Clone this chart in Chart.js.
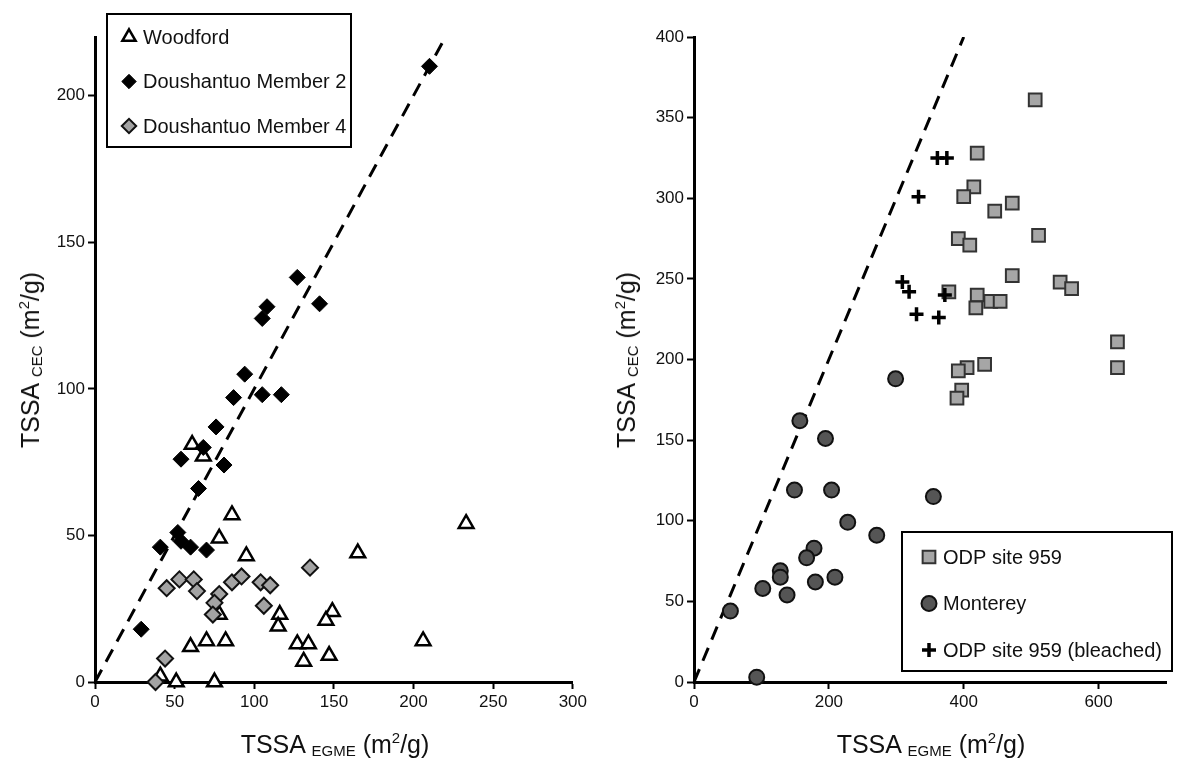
<!DOCTYPE html>
<html>
<head>
<meta charset="utf-8">
<script src="https://cdn.jsdelivr.net/npm/chart.js"></script>
<style>
body { margin: 0; background: #fff; }
#page { position: relative; width: 1177px; height: 758px; overflow: hidden; font-family: "Liberation Sans", Arial, sans-serif; color: #111; }
#page canvas { position: absolute; top: 0; }
.title { position: absolute; white-space: nowrap; font-size: 25px; line-height: 1; }
.title sub { font-size: 15px; vertical-align: -3px; }
.title sup { font-size: 15px; vertical-align: 10px; }
.ytitle { transform: translate(-50%, -50%) rotate(-90deg); }
.xtitle { transform: translate(-50%, -50%); }
</style>
</head>
<body>
<div id="page">
  <canvas id="left" width="590" height="758" style="left:0"></canvas>
  <canvas id="right" width="587" height="758" style="left:590px"></canvas>
  <div class="title ytitle" style="left:30px; top:360px">TSSA <sub>CEC</sub> (m<sup>2</sup>/g)</div>
  <div class="title xtitle" style="left:335px; top:744px">TSSA <sub>EGME</sub> (m<sup>2</sup>/g)</div>
  <div class="title ytitle" style="left:626px; top:360px">TSSA <sub>CEC</sub> (m<sup>2</sup>/g)</div>
  <div class="title xtitle" style="left:931px; top:744px">TSSA <sub>EGME</sub> (m<sup>2</sup>/g)</div>
</div>
<script>
// left panel: TSSA from CEC vs EGME, m2/g
const woodfordX = [61, 68, 86, 78, 95, 165, 233, 78, 116, 115, 149, 145, 60, 70, 82, 127, 134, 131, 147, 206, 51, 75, 41];
const woodfordY = [81, 77, 57, 49, 43, 44, 54, 23, 23, 19, 24, 21, 12, 14, 14, 13, 13, 7, 9, 14, 0, 0, 2];
const member2X = [210, 127, 141, 108, 105, 94, 87, 105, 117, 76, 68, 54, 81, 65, 52, 54, 60, 70, 41, 29];
const member2Y = [210, 138, 129, 128, 124, 105, 97, 98, 98, 87, 80, 76, 74, 66, 51, 48, 46, 45, 46, 18];
const member4X = [45, 53, 62, 64, 78, 75, 74, 86, 92, 104, 110, 106, 135, 44, 38];
const member4Y = [32, 35, 35, 31, 30, 27, 23, 34, 36, 34, 33, 26, 39, 8, 0];

// right panel
const odpX = [506, 420, 415, 400, 472, 446, 392, 409, 511, 472, 543, 560, 378, 420, 440, 454, 418, 628, 431, 405, 392, 397, 390, 628];
const odpY = [361, 328, 307, 301, 297, 292, 275, 271, 277, 252, 248, 244, 242, 240, 236, 236, 232, 211, 197, 195, 193, 181, 176, 195];
const montereyX = [299, 157, 195, 149, 204, 355, 228, 271, 178, 167, 128, 128, 102, 180, 209, 138, 54, 93];
const montereyY = [188, 162, 151, 119, 119, 115, 99, 91, 83, 77, 69, 65, 58, 62, 65, 54, 44, 3];
const bleachedX = [361, 375, 333, 309, 319, 372, 330, 363];
const bleachedY = [325, 325, 301, 248, 242, 240, 228, 226];

// 1:1 reference lines
const oneToOneLeft = [0, 220];
const oneToOneRight = [0, 400];

const leftXTicks = [0, 50, 100, 150, 200, 250, 300];
const leftYTicks = [0, 50, 100, 150, 200];
const rightXTicks = [0, 200, 400, 600];
const rightYTicks = [0, 50, 100, 150, 200, 250, 300, 350, 400];

function toPoints(xs, ys) {
    return xs.map((x, i) => ({ x: x, y: ys[i] }));
}

const tickFont = { family: "Liberation Sans", size: 17 };

function axis(min, max, ticks, fit) {
    return {
        type: 'linear',
        min: min,
        max: max,
        afterBuildTicks: scale => { scale.ticks = ticks.map(v => ({ value: v })); },
        ticks: { color: '#111', font: tickFont, padding: 3 },
        grid: { drawOnChartArea: false, drawTicks: true, tickLength: 7, tickColor: '#000', tickWidth: 2 },
        border: { display: true, color: '#000', width: 3 },
        afterFit: fit
    };
}

const insetLegend = {
    id: 'insetLegend',
    afterDatasetsDraw(chart, args, opts) {
        const ctx = chart.ctx;
        ctx.save();
        ctx.fillStyle = '#fff';
        ctx.fillRect(opts.left, opts.top, opts.width, opts.height);
        ctx.strokeStyle = '#000';
        ctx.lineWidth = 2;
        ctx.strokeRect(opts.left, opts.top, opts.width, opts.height);
        ctx.font = '20px "Liberation Sans"';
        ctx.textBaseline = 'middle';
        let y = opts.firstRow;
        chart.data.datasets.forEach(ds => {
            if (!ds.label) return;
            ctx.fillStyle = ds.backgroundColor;
            ctx.strokeStyle = ds.borderColor;
            ctx.lineWidth = ds.borderWidth;
            Chart.helpers.drawPoint(ctx, {
                pointStyle: ds.pointStyle,
                radius: ds.pointRadius * opts.markerScale,
                borderWidth: ds.borderWidth,
                rotation: 0
            }, opts.markerX, y);
            ctx.fillStyle = '#111';
            ctx.fillText(ds.label, opts.textX, y + 1);
            y += opts.rowGap;
        });
        ctx.restore();
    }
};

function refLine(ends) {
    return {
        data: toPoints(ends, ends),
        showLine: true,
        pointRadius: 0,
        borderColor: '#000',
        borderWidth: 3,
        borderDash: [14, 9],
        order: 10
    };
}

const common = {
    responsive: false,
    animation: false,
    events: [],
    plugins: { legend: { display: false }, tooltip: { enabled: false } }
};

let leftChart = new Chart(document.getElementById('left'), {
    type: 'scatter',
    data: {
        datasets: [
            { label: 'Woodford', data: toPoints(woodfordX, woodfordY), pointStyle: 'triangle', pointRadius: 8.5,
              backgroundColor: '#fff', borderColor: '#000', borderWidth: 2.5, clip: false, order: 3 },
            { label: 'Doushantuo Member 2', data: toPoints(member2X, member2Y), pointStyle: 'rectRot', pointRadius: 8,
              backgroundColor: '#000', borderColor: '#000', borderWidth: 1, clip: false, order: 1 },
            { label: 'Doushantuo Member 4', data: toPoints(member4X, member4Y), pointStyle: 'rectRot', pointRadius: 8,
              backgroundColor: '#a3a3a3', borderColor: '#111', borderWidth: 2, clip: false, order: 2 },
            refLine(oneToOneLeft)
        ]
    },
    options: Object.assign({}, common, {
        layout: { padding: { top: 37, right: 16, bottom: 0, left: 0 } },
        scales: {
            x: axis(0, 300, leftXTicks, s => { s.height = 76; }),
            y: axis(0, 220, leftYTicks, s => { s.width = 95; })
        },
        plugins: Object.assign({}, common.plugins, {
            insetLegend: { left: 107, top: 14, width: 244, height: 133, markerX: 129, textX: 143, firstRow: 37, rowGap: 44.5, markerScale: 0.9 }
        })
    }),
    plugins: [insetLegend]
});

let rightChart = new Chart(document.getElementById('right'), {
    type: 'scatter',
    data: {
        datasets: [
            { label: 'ODP site 959', data: toPoints(odpX, odpY), pointStyle: 'rect', pointRadius: 9,
              backgroundColor: '#a6a6a6', borderColor: '#333', borderWidth: 2, clip: false, order: 2 },
            { label: 'Monterey', data: toPoints(montereyX, montereyY), pointStyle: 'circle', pointRadius: 7.5,
              backgroundColor: '#555', borderColor: '#111', borderWidth: 2, clip: false, order: 3 },
            { label: 'ODP site 959 (bleached)', data: toPoints(bleachedX, bleachedY), pointStyle: 'cross', pointRadius: 7,
              backgroundColor: '#000', borderColor: '#000', borderWidth: 3.5, clip: false, order: 1 },
            refLine(oneToOneRight)
        ]
    },
    options: Object.assign({}, common, {
        layout: { padding: { top: 37, right: 10, bottom: 0, left: 0 } },
        scales: {
            x: axis(0, 700, rightXTicks, s => { s.height = 76; }),
            y: axis(0, 400, rightYTicks, s => { s.width = 104; })
        },
        plugins: Object.assign({}, common.plugins, {
            insetLegend: { left: 312, top: 532, width: 270, height: 139, markerX: 339, textX: 353, firstRow: 557, rowGap: 46.5, markerScale: 1 }
        })
    }),
    plugins: [insetLegend]
});
</script>
</body>
</html>
